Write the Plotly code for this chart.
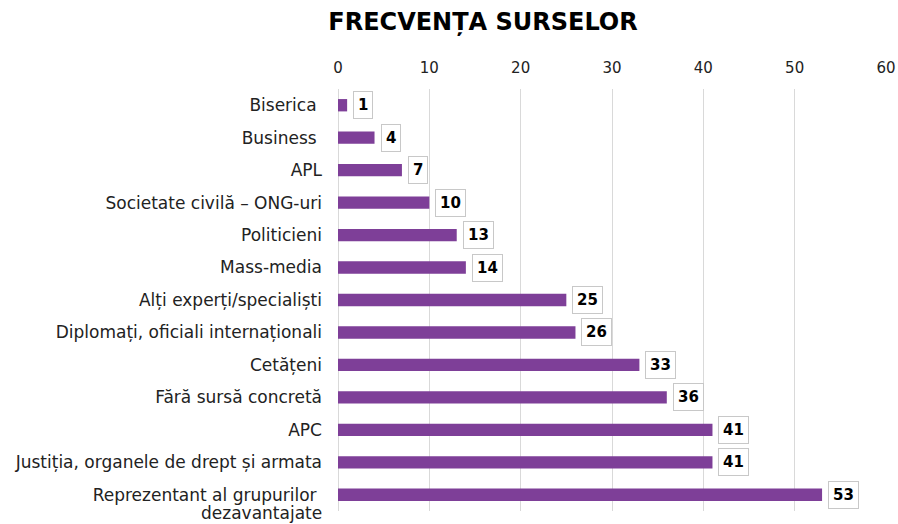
import plotly.graph_objects as go

categories = [
    "Biserica ",
    "Business ",
    "APL",
    "Societate civilă – ONG-uri",
    "Politicieni",
    "Mass-media",
    "Alți experți/specialiști",
    "Diplomați, oficiali internaționali",
    "Cetățeni",
    "Fără sursă concretă",
    "APC",
    "Justiția, organele de drept și armata",
    "Reprezentant al grupurilor \ndezavantajate",
]
values = [1, 4, 7, 10, 13, 14, 25, 26, 33, 36, 41, 41, 53]
x_ticks = [0, 10, 20, 30, 40, 50, 60]

FONT = "DejaVu Sans"
BAR_COLOR = "#7E3F98"
LABEL_SIZE = 17
STANDOFF = 15

fig = go.Figure()
fig.add_trace(go.Bar(
    y=categories,
    x=values,
    orientation="h",
    marker=dict(color=BAR_COLOR, line=dict(width=0)),
    width=0.38,
    hoverinfo="x",
))

# first line of each label goes on the axis; a second line (if any) is placed below it
tick_text = [c.split("\n")[0] for c in categories]

annotations = []
for c in categories:
    parts = c.split("\n")
    if len(parts) > 1:
        annotations.append(dict(
            x=0, xref="paper", y=c, yref="y",
            text=parts[1],
            showarrow=False,
            xanchor="right", yanchor="middle",
            xshift=-STANDOFF + 1, yshift=-18,
            font=dict(family=FONT, size=LABEL_SIZE, color="#222222"),
        ))

for c, v in zip(categories, values):
    annotations.append(dict(
        x=v, y=c, xref="x", yref="y",
        text="<b>%d</b>" % v,
        showarrow=False,
        xanchor="left",
        xshift=6,
        font=dict(family=FONT, size=15, color="#000000"),
        bgcolor="#ffffff",
        bordercolor="#c8c8c8",
        borderwidth=1,
        borderpad=4,
    ))

fig.update_layout(
    width=898, height=524,
    margin=dict(l=338, r=12, t=89, b=13, autoexpand=False),
    paper_bgcolor="#ffffff",
    plot_bgcolor="#ffffff",
    title=dict(
        text="<b>FRECVENȚA SURSELOR</b>",
        x=483 / 898, xanchor="center", xref="container",
        y=1 - 22 / 524, yanchor="middle", yref="container",
        font=dict(family=FONT, size=24, color="#000000"),
    ),
    font=dict(family=FONT, size=LABEL_SIZE, color="#222222"),
    showlegend=False,
    annotations=annotations,
    xaxis=dict(
        side="top",
        range=[0, 60],
        tickvals=x_ticks,
        showgrid=True,
        gridcolor="#d9d9d9",
        gridwidth=1,
        zeroline=True,
        zerolinecolor="#d9d9d9",
        zerolinewidth=1,
        showline=False,
        ticks="",
        tickfont=dict(family=FONT, size=15, color="#222222"),
        ticklabelstandoff=12,
        automargin=False,
        fixedrange=True,
    ),
    yaxis=dict(
        autorange="reversed",
        tickmode="array",
        tickvals=categories,
        ticktext=tick_text,
        showgrid=False,
        zeroline=False,
        showline=False,
        ticks="",
        ticklabelstandoff=STANDOFF,
        tickfont=dict(family=FONT, size=LABEL_SIZE, color="#222222"),
        automargin=False,
        fixedrange=True,
    ),
)

fig.write_html(
    "out.html",
    config={"displayModeBar": False},
    post_script="document.body.style.margin='0';document.body.style.overflow='hidden';",
)
